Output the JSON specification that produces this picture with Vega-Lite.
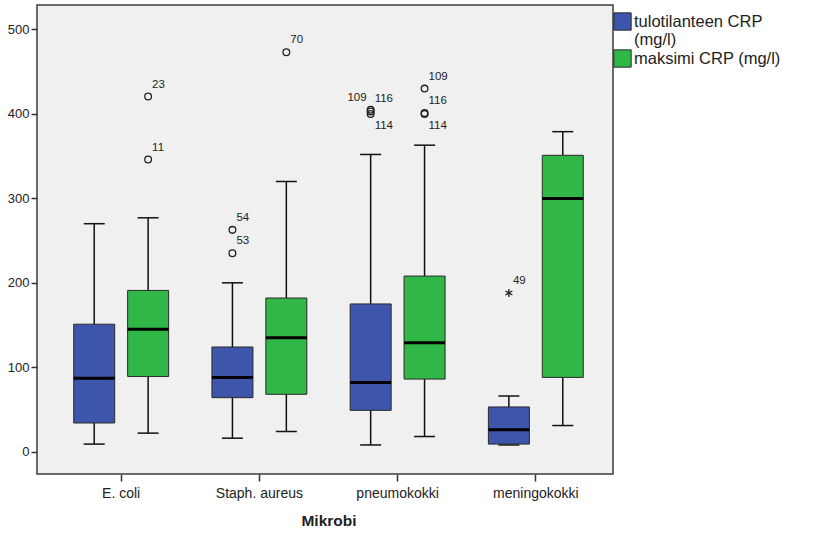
{
  "$schema": "https://vega.github.io/schema/vega-lite/v6.json",
  "width": 576,
  "height": 469,
  "autosize": "none",
  "padding": {"left": 37, "top": 5, "right": 205, "bottom": 72},
  "background": "white",
  "config": {
    "font": "Liberation Sans",
    "view": {"fill": "#f0f0f0", "stroke": "#3c3c3c", "strokeWidth": 1.5},
    "axis": {"labelFont": "Liberation Sans", "labelColor": "#222", "tickColor": "#333", "domain": false, "grid": false}
  },
  "datasets": {
    "boxes": [
      {"microbe": "E. coli", "series": "tulotilanteen CRP (mg/l)", "min": 9, "q1": 34, "median": 87, "q3": 151, "max": 270},
      {"microbe": "E. coli", "series": "maksimi CRP (mg/l)", "min": 22, "q1": 89, "median": 145, "q3": 191, "max": 277},
      {"microbe": "Staph. aureus", "series": "tulotilanteen CRP (mg/l)", "min": 16, "q1": 64, "median": 88, "q3": 124, "max": 200},
      {"microbe": "Staph. aureus", "series": "maksimi CRP (mg/l)", "min": 24, "q1": 68, "median": 135, "q3": 182, "max": 320},
      {"microbe": "pneumokokki", "series": "tulotilanteen CRP (mg/l)", "min": 8, "q1": 49, "median": 82, "q3": 175, "max": 352},
      {"microbe": "pneumokokki", "series": "maksimi CRP (mg/l)", "min": 18, "q1": 86, "median": 129, "q3": 208, "max": 363},
      {"microbe": "meningokokki", "series": "tulotilanteen CRP (mg/l)", "min": 8, "q1": 9, "median": 26, "q3": 53, "max": 66},
      {"microbe": "meningokokki", "series": "maksimi CRP (mg/l)", "min": 31, "q1": 88, "median": 300, "q3": 351, "max": 379}
    ],
    "outliers": [
      {"microbe": "E. coli", "series": "maksimi CRP (mg/l)", "value": 420.6, "id": "23", "kind": "outlier", "pos": "ur"},
      {"microbe": "E. coli", "series": "maksimi CRP (mg/l)", "value": 346, "id": "11", "kind": "outlier", "pos": "ur"},
      {"microbe": "Staph. aureus", "series": "tulotilanteen CRP (mg/l)", "value": 262.7, "id": "54", "kind": "outlier", "pos": "ur"},
      {"microbe": "Staph. aureus", "series": "tulotilanteen CRP (mg/l)", "value": 235, "id": "53", "kind": "outlier", "pos": "ur"},
      {"microbe": "Staph. aureus", "series": "maksimi CRP (mg/l)", "value": 473, "id": "70", "kind": "outlier", "pos": "ur"},
      {"microbe": "pneumokokki", "series": "tulotilanteen CRP (mg/l)", "value": 405, "id": "109", "kind": "outlier", "pos": "ul"},
      {"microbe": "pneumokokki", "series": "tulotilanteen CRP (mg/l)", "value": 403, "id": "116", "kind": "outlier", "pos": "ur"},
      {"microbe": "pneumokokki", "series": "tulotilanteen CRP (mg/l)", "value": 400, "id": "114", "kind": "outlier", "pos": "lr"},
      {"microbe": "pneumokokki", "series": "maksimi CRP (mg/l)", "value": 430, "id": "109", "kind": "outlier", "pos": "ur"},
      {"microbe": "pneumokokki", "series": "maksimi CRP (mg/l)", "value": 401, "id": "116", "kind": "outlier", "pos": "ur"},
      {"microbe": "pneumokokki", "series": "maksimi CRP (mg/l)", "value": 400, "id": "114", "kind": "outlier", "pos": "lr"},
      {"microbe": "meningokokki", "series": "tulotilanteen CRP (mg/l)", "value": 188, "id": "49", "kind": "extreme", "pos": "ur"}
    ]
  },
  "encoding": {
    "x": {
      "field": "microbe", "type": "nominal",
      "sort": ["E. coli", "Staph. aureus", "pneumokokki", "meningokokki"],
      "scale": {"paddingInner": 0.22, "paddingOuter": 0.19, "range": [4, 579]},
      "title": "Mikrobi",
      "axis": {"labelAngle": 0, "labelFontSize": 14, "tickSize": 7, "tickWidth": 1.5, "labelPadding": 5, "titleFontSize": 15.5, "titleFontWeight": "bold", "titleColor": "#222", "titleFont": "Liberation Sans", "titlePadding": 13}
    },
    "xOffset": {
      "field": "series", "type": "nominal",
      "sort": ["tulotilanteen CRP (mg/l)", "maksimi CRP (mg/l)"],
      "scale": {"paddingInner": 0, "paddingOuter": 0}
    }
  },
  "layer": [
    {
      "data": {"name": "boxes"},
      "mark": {"type": "rule", "color": "#111", "strokeWidth": 1.5},
      "encoding": {
        "y": {"field": "min", "type": "quantitative", "scale": {"domain": [-26.4, 529], "nice": false, "zero": false}, "axis": {"values": [0, 100, 200, 300, 400, 500], "title": null, "labelFontSize": 13, "tickSize": 6, "tickWidth": 1.5, "labelPadding": 2}},
        "y2": {"field": "max"}
      }
    },
    {
      "data": {"name": "boxes"},
      "mark": {"type": "tick", "color": "#111", "size": 21, "thickness": 1.5, "opacity": 1},
      "encoding": {"y": {"field": "min", "type": "quantitative"}}
    },
    {
      "data": {"name": "boxes"},
      "mark": {"type": "tick", "color": "#111", "size": 21, "thickness": 1.5, "opacity": 1},
      "encoding": {"y": {"field": "max", "type": "quantitative"}}
    },
    {
      "data": {"name": "boxes"},
      "mark": {"type": "bar", "size": 41, "stroke": "#2a2a2a", "strokeWidth": 1, "opacity": 1},
      "encoding": {
        "y": {"field": "q1", "type": "quantitative"},
        "y2": {"field": "q3"},
        "color": {
          "field": "series", "type": "nominal",
          "sort": ["tulotilanteen CRP (mg/l)", "maksimi CRP (mg/l)"],
          "scale": {"domain": ["tulotilanteen CRP (mg/l)", "maksimi CRP (mg/l)"], "range": ["#3d55ab", "#30b748"]},
          "legend": {
            "orient": "none", "legendX": 576, "legendY": 7, "title": null,
            "symbolType": "square", "symbolSize": 300, "symbolStrokeColor": "#2a2a2a", "symbolStrokeWidth": 1, "symbolOpacity": 1,
            "labelFontSize": 16.5, "labelFont": "Liberation Sans", "labelColor": "#222", "labelLimit": 300, "labelOffset": 2,
            "rowPadding": -3,
            "labelExpr": "datum.label == 'tulotilanteen CRP (mg/l)' ? ['tulotilanteen CRP', '(mg/l)'] : datum.label"
          }
        }
      }
    },
    {
      "data": {"name": "boxes"},
      "mark": {"type": "tick", "color": "#000", "size": 41, "thickness": 3, "opacity": 1},
      "encoding": {"y": {"field": "median", "type": "quantitative"}}
    },
    {
      "data": {"name": "outliers"},
      "transform": [{"filter": "datum.kind == 'outlier'"}],
      "mark": {"type": "point", "shape": "circle", "filled": false, "stroke": "#222", "strokeWidth": 1.3, "size": 45, "opacity": 1},
      "encoding": {"y": {"field": "value", "type": "quantitative"}}
    },
    {
      "data": {"name": "outliers"},
      "transform": [{"filter": "datum.kind == 'extreme'"}],
      "mark": {"type": "point", "shape": "M0,-1L0,1M-0.87,-0.5L0.87,0.5M-0.87,0.5L0.87,-0.5", "filled": false, "stroke": "#222", "strokeWidth": 1.3, "size": 64, "opacity": 1},
      "encoding": {"y": {"field": "value", "type": "quantitative"}}
    },
    {
      "data": {"name": "outliers"},
      "transform": [{"filter": "datum.pos == 'ur'"}],
      "mark": {"type": "text", "align": "left", "baseline": "middle", "dx": 4, "dy": -12, "fontSize": 11.5, "fill": "#222"},
      "encoding": {"y": {"field": "value", "type": "quantitative"}, "text": {"field": "id"}}
    },
    {
      "data": {"name": "outliers"},
      "transform": [{"filter": "datum.pos == 'lr'"}],
      "mark": {"type": "text", "align": "left", "baseline": "middle", "dx": 4, "dy": 12, "fontSize": 11.5, "fill": "#222"},
      "encoding": {"y": {"field": "value", "type": "quantitative"}, "text": {"field": "id"}}
    },
    {
      "data": {"name": "outliers"},
      "transform": [{"filter": "datum.pos == 'ul'"}],
      "mark": {"type": "text", "align": "right", "baseline": "middle", "dx": -4, "dy": -12, "fontSize": 11.5, "fill": "#222"},
      "encoding": {"y": {"field": "value", "type": "quantitative"}, "text": {"field": "id"}}
    }
  ]
}
